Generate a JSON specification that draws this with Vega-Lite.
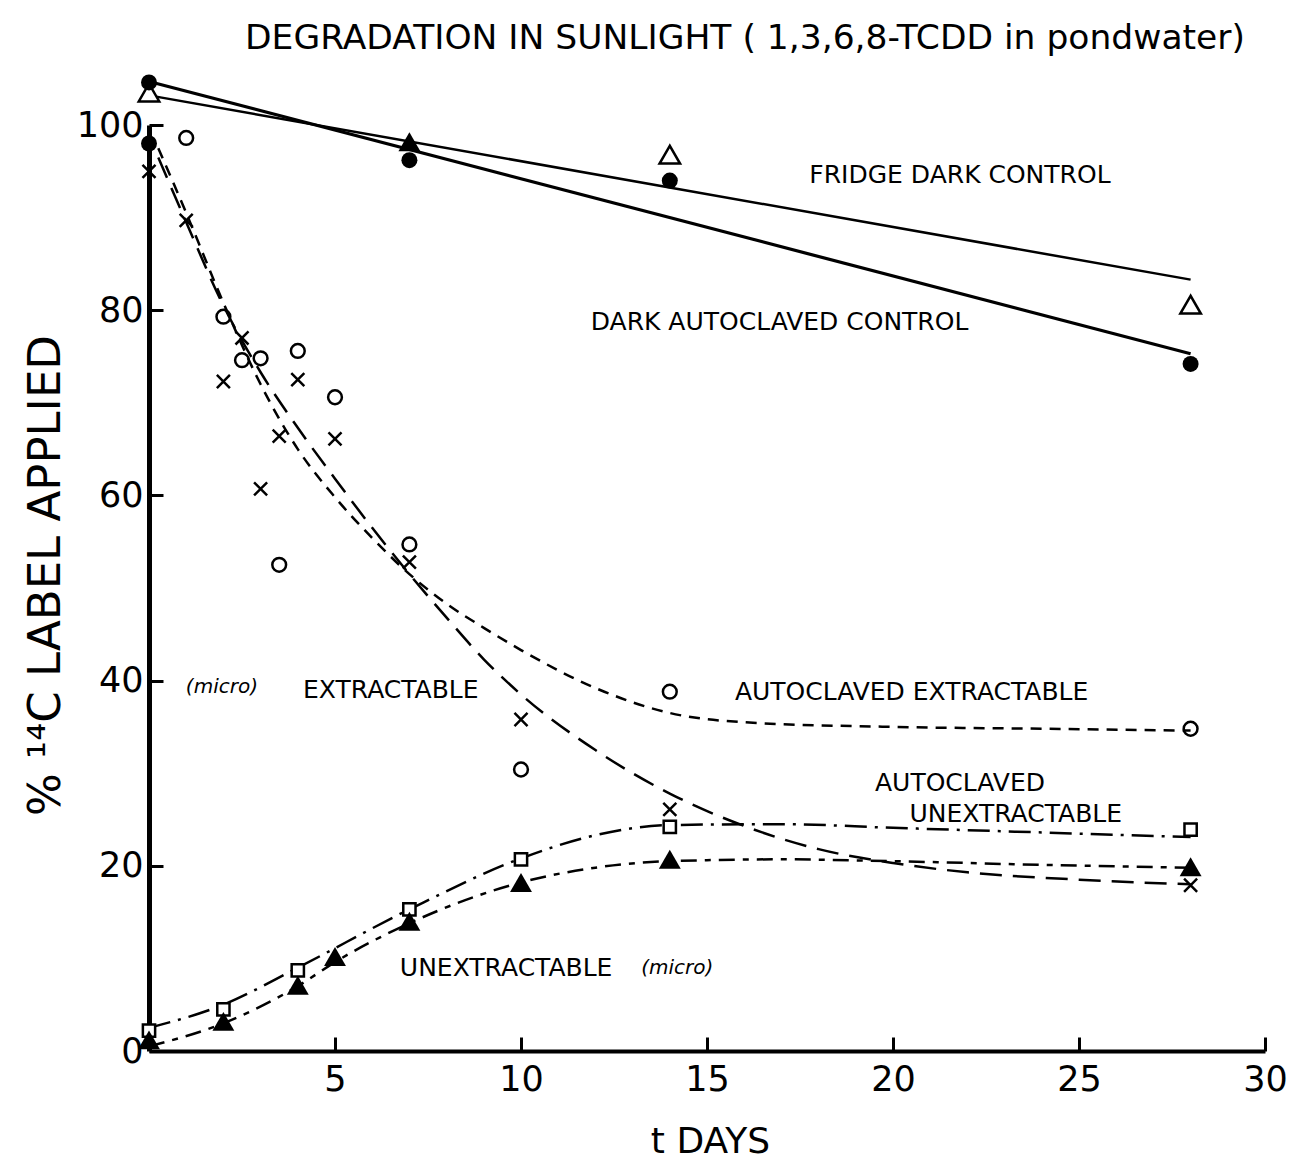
{
  "$schema": "https://vega.github.io/schema/vega-lite/v6.json",
  "width": 1116,
  "height": 926,
  "autosize": {"type": "none"},
  "padding": {"left": 149, "top": 125, "right": 28, "bottom": 109},
  "background": "white",
  "title": {
    "text": "DEGRADATION IN SUNLIGHT ( 1,3,6,8-TCDD in pondwater)",
    "font": "DejaVu Sans",
    "fontSize": 34.5,
    "fontWeight": "normal",
    "color": "black",
    "anchor": "middle",
    "frame": "group",
    "dx": 38,
    "offset": 18
  },
  "config": {"view": {"stroke": null}},
  "datasets": {
    "curves": [
      {"c": "fridge", "day": 0, "pct": 103.2},
      {"c": "fridge", "day": 28, "pct": 83.3},
      {"c": "dark", "day": 0, "pct": 104.7},
      {"c": "dark", "day": 28, "pct": 75.3},
      {"c": "extr", "day": 0.25, "pct": 96.5},
      {"c": "extr", "day": 1, "pct": 89.5},
      {"c": "extr", "day": 2, "pct": 80.5},
      {"c": "extr", "day": 3, "pct": 73.3},
      {"c": "extr", "day": 4, "pct": 67.3},
      {"c": "extr", "day": 5, "pct": 61.8},
      {"c": "extr", "day": 6, "pct": 56.5},
      {"c": "extr", "day": 7, "pct": 51.5},
      {"c": "extr", "day": 8, "pct": 46.8},
      {"c": "extr", "day": 9, "pct": 42.3},
      {"c": "extr", "day": 10, "pct": 38.5},
      {"c": "extr", "day": 12, "pct": 32.5},
      {"c": "extr", "day": 14, "pct": 27.8},
      {"c": "extr", "day": 16, "pct": 24.3},
      {"c": "extr", "day": 18, "pct": 21.8},
      {"c": "extr", "day": 20, "pct": 20.3},
      {"c": "extr", "day": 22, "pct": 19.3},
      {"c": "extr", "day": 25, "pct": 18.5},
      {"c": "extr", "day": 28, "pct": 18},
      {"c": "autoextr", "day": 0.25, "pct": 97.5},
      {"c": "autoextr", "day": 1, "pct": 90.5},
      {"c": "autoextr", "day": 2, "pct": 80.8},
      {"c": "autoextr", "day": 3, "pct": 72},
      {"c": "autoextr", "day": 4, "pct": 65},
      {"c": "autoextr", "day": 5, "pct": 59.8},
      {"c": "autoextr", "day": 6, "pct": 55.4},
      {"c": "autoextr", "day": 7, "pct": 51.5},
      {"c": "autoextr", "day": 8, "pct": 48.3},
      {"c": "autoextr", "day": 9, "pct": 45.7},
      {"c": "autoextr", "day": 10, "pct": 43.3},
      {"c": "autoextr", "day": 12, "pct": 39.2},
      {"c": "autoextr", "day": 14, "pct": 36.5},
      {"c": "autoextr", "day": 16, "pct": 35.5},
      {"c": "autoextr", "day": 20, "pct": 35},
      {"c": "autoextr", "day": 24, "pct": 34.8},
      {"c": "autoextr", "day": 28, "pct": 34.6},
      {"c": "autounex", "day": 0, "pct": 2.5},
      {"c": "autounex", "day": 2, "pct": 5},
      {"c": "autounex", "day": 4, "pct": 9},
      {"c": "autounex", "day": 7, "pct": 15.3},
      {"c": "autounex", "day": 10, "pct": 20.8},
      {"c": "autounex", "day": 12, "pct": 23.3},
      {"c": "autounex", "day": 14, "pct": 24.4},
      {"c": "autounex", "day": 17, "pct": 24.5},
      {"c": "autounex", "day": 20, "pct": 24.1},
      {"c": "autounex", "day": 24, "pct": 23.6},
      {"c": "autounex", "day": 28, "pct": 23.1},
      {"c": "unex", "day": 0, "pct": 0.5},
      {"c": "unex", "day": 2, "pct": 3},
      {"c": "unex", "day": 4, "pct": 7},
      {"c": "unex", "day": 5, "pct": 9.6},
      {"c": "unex", "day": 7, "pct": 13.8},
      {"c": "unex", "day": 10, "pct": 18.2},
      {"c": "unex", "day": 12, "pct": 19.8},
      {"c": "unex", "day": 14, "pct": 20.5},
      {"c": "unex", "day": 17, "pct": 20.7},
      {"c": "unex", "day": 20, "pct": 20.5},
      {"c": "unex", "day": 24, "pct": 20.1},
      {"c": "unex", "day": 28, "pct": 19.8}
    ],
    "pts": [
      {"s": "fridge", "day": 0, "pct": 103.5},
      {"s": "fridge", "day": 7, "pct": 98.2},
      {"s": "fridge", "day": 14, "pct": 96.8},
      {"s": "fridge", "day": 28, "pct": 80.6},
      {"s": "dark", "day": 0, "pct": 104.6},
      {"s": "dark", "day": 7, "pct": 96.2},
      {"s": "dark", "day": 14, "pct": 94.0},
      {"s": "dark", "day": 28, "pct": 74.2},
      {"s": "start", "day": 0, "pct": 98},
      {"s": "extr", "day": 0, "pct": 95},
      {"s": "extr", "day": 1, "pct": 89.7},
      {"s": "extr", "day": 2, "pct": 72.3},
      {"s": "extr", "day": 2.5, "pct": 77},
      {"s": "extr", "day": 3, "pct": 60.7},
      {"s": "extr", "day": 3.5, "pct": 66.4},
      {"s": "extr", "day": 4, "pct": 72.5},
      {"s": "extr", "day": 5, "pct": 66.1},
      {"s": "extr", "day": 7, "pct": 52.8},
      {"s": "extr", "day": 10, "pct": 35.8},
      {"s": "extr", "day": 14, "pct": 26.1},
      {"s": "extr", "day": 28, "pct": 17.9},
      {"s": "autoextr", "day": 1, "pct": 98.6},
      {"s": "autoextr", "day": 2, "pct": 79.3},
      {"s": "autoextr", "day": 2.5, "pct": 74.6},
      {"s": "autoextr", "day": 3, "pct": 74.8},
      {"s": "autoextr", "day": 3.5, "pct": 52.5},
      {"s": "autoextr", "day": 4, "pct": 75.6},
      {"s": "autoextr", "day": 5, "pct": 70.6},
      {"s": "autoextr", "day": 7, "pct": 54.7},
      {"s": "autoextr", "day": 10, "pct": 30.4},
      {"s": "autoextr", "day": 14, "pct": 38.8},
      {"s": "autoextr", "day": 28, "pct": 34.8},
      {"s": "autounex", "day": 0, "pct": 2.2},
      {"s": "autounex", "day": 2, "pct": 4.5},
      {"s": "autounex", "day": 4, "pct": 8.7},
      {"s": "autounex", "day": 7, "pct": 15.3},
      {"s": "autounex", "day": 10, "pct": 20.7},
      {"s": "autounex", "day": 14, "pct": 24.2},
      {"s": "autounex", "day": 28, "pct": 23.9},
      {"s": "unex", "day": 0, "pct": 1.2},
      {"s": "unex", "day": 2, "pct": 3.2},
      {"s": "unex", "day": 4, "pct": 7.1},
      {"s": "unex", "day": 5, "pct": 10.2},
      {"s": "unex", "day": 7, "pct": 14},
      {"s": "unex", "day": 10, "pct": 18.2},
      {"s": "unex", "day": 14, "pct": 20.7},
      {"s": "unex", "day": 28, "pct": 19.9}
    ],
    "labels": [
      {"t": "FRIDGE DARK CONTROL", "day": 21.8, "pct": 94.6},
      {"t": "DARK AUTOCLAVED CONTROL", "day": 16.95, "pct": 78.7},
      {"t": "EXTRACTABLE", "day": 6.5, "pct": 39},
      {"t": "AUTOCLAVED EXTRACTABLE", "day": 20.5, "pct": 38.8},
      {"t": "AUTOCLAVED", "day": 21.8, "pct": 28.9},
      {"t": "UNEXTRACTABLE", "day": 23.3, "pct": 25.6},
      {"t": "UNEXTRACTABLE", "day": 9.6, "pct": 9.0},
      {"t": "(micro)", "day": 14.2, "pct": 9.0},
      {"t": "(micro)", "day": 1.96, "pct": 39.3}
    ]
  },
  "encoding": {
    "x": {
      "field": "day",
      "type": "quantitative",
      "scale": {"domain": [0, 30], "nice": false, "zero": false},
      "axis": {
        "values": [5, 10, 15, 20, 25, 30],
        "title": "t DAYS",
        "grid": false,
        "domainColor": "black",
        "domainWidth": 4,
        "tickColor": "black",
        "tickWidth": 3,
        "tickSize": -14,
        "labelPadding": 25,
        "labelFlush": false,
        "labelOverlap": false,
        "labelFont": "DejaVu Sans",
        "labelFontSize": 35,
        "labelColor": "black",
        "titleFont": "DejaVu Sans",
        "titleFontSize": 36,
        "titleFontWeight": "normal",
        "titleColor": "black",
        "titleX": 561,
        "titleY": 90,
        "titleBaseline": "middle",
        "titleAlign": "center"
      }
    },
    "y": {
      "field": "pct",
      "type": "quantitative",
      "scale": {"domain": [0, 100], "nice": false, "zero": false},
      "axis": {
        "values": [0, 20, 40, 60, 80, 100],
        "title": "% ¹⁴C LABEL APPLIED",
        "grid": false,
        "domainColor": "black",
        "domainWidth": 5,
        "tickColor": "black",
        "tickWidth": 3,
        "tickSize": -14,
        "labelPadding": 20,
        "labelFlush": false,
        "labelOverlap": false,
        "labelFont": "DejaVu Sans",
        "labelFontSize": 35,
        "labelColor": "black",
        "titleFont": "DejaVu Sans",
        "titleFontSize": 45,
        "titleFontWeight": "normal",
        "titleColor": "black",
        "titleX": -104,
        "titleY": 450,
        "titleAngle": 270,
        "titleBaseline": "middle",
        "titleAlign": "center"
      }
    }
  },
  "layer": [
    {
      "data": {"name": "curves"},
      "transform": [{"filter": "datum.c === 'fridge'"}],
      "mark": {"type": "line", "color": "black", "strokeWidth": 2.5}
    },
    {
      "data": {"name": "curves"},
      "transform": [{"filter": "datum.c === 'dark'"}],
      "mark": {"type": "line", "color": "black", "strokeWidth": 3.2}
    },
    {
      "data": {"name": "curves"},
      "transform": [{"filter": "datum.c === 'extr'"}],
      "mark": {"type": "line", "color": "black", "strokeWidth": 2.5, "strokeDash": [22, 11], "interpolate": "monotone"}
    },
    {
      "data": {"name": "curves"},
      "transform": [{"filter": "datum.c === 'autoextr'"}],
      "mark": {"type": "line", "color": "black", "strokeWidth": 2.5, "strokeDash": [11, 8], "interpolate": "monotone"}
    },
    {
      "data": {"name": "curves"},
      "transform": [{"filter": "datum.c === 'autounex'"}],
      "mark": {"type": "line", "color": "black", "strokeWidth": 2.5, "strokeDash": [22, 8, 3, 8], "interpolate": "monotone"}
    },
    {
      "data": {"name": "curves"},
      "transform": [{"filter": "datum.c === 'unex'"}],
      "mark": {"type": "line", "color": "black", "strokeWidth": 2.5, "strokeDash": [16, 8, 6, 8], "interpolate": "monotone"}
    },
    {
      "data": {"name": "pts"},
      "transform": [{"filter": "datum.s === 'fridge' && datum.day !== 7"}],
      "mark": {"type": "point", "shape": "triangle-up", "filled": false, "color": "black", "fill": "white", "fillOpacity": 1, "strokeWidth": 2.5, "size": 420, "opacity": 1}
    },
    {
      "data": {"name": "pts"},
      "transform": [{"filter": "datum.s === 'fridge' && datum.day === 7"}],
      "mark": {"type": "point", "shape": "triangle-up", "filled": true, "color": "black", "size": 480, "opacity": 1}
    },
    {
      "data": {"name": "pts"},
      "transform": [{"filter": "datum.s === 'dark' || datum.s === 'start'"}],
      "mark": {"type": "point", "shape": "circle", "filled": true, "color": "black", "size": 256, "opacity": 1}
    },
    {
      "data": {"name": "pts"},
      "transform": [{"filter": "datum.s === 'autoextr'"}],
      "mark": {"type": "point", "shape": "circle", "filled": false, "color": "black", "strokeWidth": 2.5, "size": 190, "opacity": 1}
    },
    {
      "data": {"name": "pts"},
      "transform": [{"filter": "datum.s === 'extr'"}],
      "mark": {"type": "point", "shape": "M-1,-1L1,1M-1,1L1,-1", "filled": false, "color": "black", "strokeWidth": 2.5, "size": 170, "opacity": 1}
    },
    {
      "data": {"name": "pts"},
      "transform": [{"filter": "datum.s === 'autounex'"}],
      "mark": {"type": "point", "shape": "square", "filled": false, "color": "black", "fill": "white", "fillOpacity": 1, "strokeWidth": 2.5, "size": 150, "opacity": 1}
    },
    {
      "data": {"name": "pts"},
      "transform": [{"filter": "datum.s === 'unex'"}],
      "mark": {"type": "point", "shape": "triangle-up", "filled": true, "color": "black", "size": 480, "opacity": 1}
    },
    {
      "data": {"name": "labels"},
      "transform": [{"filter": "datum.t !== '(micro)'"}],
      "mark": {"type": "text", "font": "DejaVu Sans", "fontSize": 25, "color": "black", "align": "center", "baseline": "middle"},
      "encoding": {"text": {"field": "t"}}
    },
    {
      "data": {"name": "labels"},
      "transform": [{"filter": "datum.t === '(micro)'"}],
      "mark": {"type": "text", "font": "DejaVu Sans", "fontSize": 20, "fontStyle": "italic", "color": "black", "align": "center", "baseline": "middle"},
      "encoding": {"text": {"field": "t"}}
    }
  ]
}
